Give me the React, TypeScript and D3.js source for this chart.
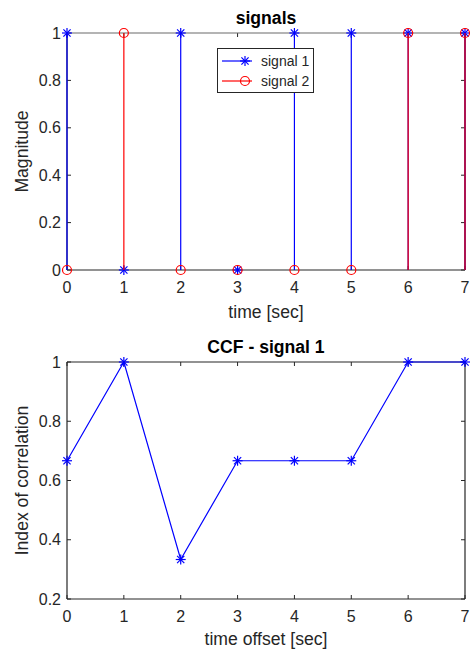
import React, { useRef, useEffect } from "react"
import * as d3 from "d3"

const times = [0, 1, 2, 3, 4, 5, 6, 7]
const signal1 = [1, 0, 1, 0, 1, 1, 1, 1]
const signal2 = [0, 1, 0, 0, 0, 0, 1, 1]
const ccf = [0.6667, 1, 0.3333, 0.6667, 0.6667, 0.6667, 1, 1]
const topTicksY = [0, 0.2, 0.4, 0.6, 0.8, 1]
const bottomTicksY = [0.2, 0.4, 0.6, 0.8, 1]

const W = 470
const H = 655
const FONT = "'Liberation Sans', Arial, sans-serif"
const AX = "#262626"

const App: React.FC = () => {
  const svgRef = useRef<SVGSVGElement>(null)

  useEffect(() => {
    if (!svgRef.current) return
    const svg = d3.select(svgRef.current)
    svg.selectAll("*").remove()

    const x = d3.scaleLinear().domain([0, 7]).range([67, 465])

    const star = (g: d3.Selection<SVGGElement, unknown, null, undefined>, cx: number, cy: number, color: string) => {
      const r = 5
      const s = g.append("g").attr("transform", `translate(${cx},${cy})`)
        .attr("stroke", color).attr("stroke-width", 1.2)
      s.append("line").attr("x1", -r).attr("x2", r).attr("y1", 0).attr("y2", 0)
      s.append("line").attr("x1", 0).attr("x2", 0).attr("y1", -r).attr("y2", r)
      const d = r * 0.72
      s.append("line").attr("x1", -d).attr("x2", d).attr("y1", -d).attr("y2", d)
      s.append("line").attr("x1", -d).attr("x2", d).attr("y1", d).attr("y2", -d)
    }

    const circ = (g: d3.Selection<SVGGElement, unknown, null, undefined>, cx: number, cy: number) => {
      g.append("circle").attr("cx", cx).attr("cy", cy).attr("r", 4.5)
        .attr("fill", "none").attr("stroke", "#ff0000").attr("stroke-width", 1.2)
    }

    const drawAxes = (
      y: d3.ScaleLinear<number, number>,
      yTicks: number[],
      title: string,
      xLabel: string,
      yLabel: string,
      topColor: string,
      xLabelGap: number
    ) => {
      const g = svg.append("g")
      const [y0, y1] = y.range()
      const x0 = x(0), x1 = x(7)
      // ticks point inward, matlab style
      times.forEach((t) => {
        g.append("line").attr("x1", x(t)).attr("x2", x(t)).attr("y1", y0).attr("y2", y0 - 4).attr("stroke", AX)
        g.append("line").attr("x1", x(t)).attr("x2", x(t)).attr("y1", y1).attr("y2", y1 + 4).attr("stroke", AX)
        g.append("text").attr("x", x(t)).attr("y", y0 + 23).attr("text-anchor", "middle")
          .attr("font-size", 16).attr("fill", AX).text(t)
      })
      yTicks.forEach((v) => {
        g.append("line").attr("x1", x0).attr("x2", x0 + 4).attr("y1", y(v)).attr("y2", y(v)).attr("stroke", AX)
        g.append("line").attr("x1", x1).attr("x2", x1 - 4).attr("y1", y(v)).attr("y2", y(v)).attr("stroke", AX)
        g.append("text").attr("x", x0 - 6).attr("y", y(v)).attr("dy", "0.35em").attr("text-anchor", "end")
          .attr("font-size", 16).attr("fill", AX).text(String(v))
      })
      g.append("line").attr("x1", x0).attr("x2", x1).attr("y1", y1).attr("y2", y1).attr("stroke", topColor).attr("stroke-width", 1.2)
      g.append("line").attr("x1", x0).attr("x2", x1).attr("y1", y0).attr("y2", y0).attr("stroke", AX).attr("stroke-width", 1.2)
      g.append("line").attr("x1", x0).attr("x2", x0).attr("y1", y0).attr("y2", y1).attr("stroke", AX).attr("stroke-width", 1.2)
      g.append("line").attr("x1", x1).attr("x2", x1).attr("y1", y0).attr("y2", y1).attr("stroke", AX).attr("stroke-width", 1.2)

      g.append("text").attr("x", (x0 + x1) / 2).attr("y", y1 - 9).attr("text-anchor", "middle")
        .attr("font-size", 17.6).attr("font-weight", "bold").attr("fill", "#000").text(title)
      g.append("text").attr("x", (x0 + x1) / 2).attr("y", y0 + xLabelGap).attr("text-anchor", "middle")
        .attr("font-size", 17.6).attr("fill", AX).text(xLabel)
      g.append("text").attr("transform", `translate(28,${(y0 + y1) / 2}) rotate(-90)`)
        .attr("text-anchor", "middle").attr("font-size", 17.6).attr("fill", AX).text(yLabel)
      return g
    }

    // top: stem plot
    const yTop = d3.scaleLinear().domain([0, 1]).range([270, 33])
    drawAxes(yTop, topTicksY, "signals", "time [sec]", "Magnitude", "#6b6b6b", 48)
    const stems = svg.append("g")
    times.forEach((t, i) => {
      if (signal1[i] !== 0)
        stems.append("line").attr("x1", x(t)).attr("x2", x(t)).attr("y1", yTop(0)).attr("y2", yTop(signal1[i]))
          .attr("stroke", "#0000ff").attr("stroke-width", 1.2)
    })
    times.forEach((t, i) => star(stems, x(t), yTop(signal1[i]), "#0000ff"))
    times.forEach((t, i) => {
      if (signal2[i] !== 0)
        stems.append("line").attr("x1", x(t)).attr("x2", x(t)).attr("y1", yTop(0)).attr("y2", yTop(signal2[i]))
          .attr("stroke", "#ff0000").attr("stroke-width", 1.2)
    })
    times.forEach((t, i) => circ(stems, x(t), yTop(signal2[i])))

    // legend
    const lg = svg.append("g")
    lg.append("rect").attr("x", 217.5).attr("y", 48.5).attr("width", 96).attr("height", 44)
      .attr("fill", "#fff").attr("stroke", AX).attr("stroke-width", 1)
    lg.append("line").attr("x1", 222).attr("x2", 252).attr("y1", 61).attr("y2", 61).attr("stroke", "#0000ff").attr("stroke-width", 1.2)
    star(lg, 245, 61, "#0000ff")
    lg.append("line").attr("x1", 222).attr("x2", 252).attr("y1", 81).attr("y2", 81).attr("stroke", "#ff0000").attr("stroke-width", 1.2)
    circ(lg, 245, 81)
    lg.append("text").attr("x", 261).attr("y", 61).attr("dy", "0.35em").attr("font-size", 14).attr("fill", AX).text("signal 1")
    lg.append("text").attr("x", 261).attr("y", 81).attr("dy", "0.35em").attr("font-size", 14).attr("fill", AX).text("signal 2")

    // bottom: CCF line plot
    const yBot = d3.scaleLinear().domain([0.2, 1]).range([599, 362])
    drawAxes(yBot, bottomTicksY, "CCF - signal 1", "time offset [sec]", "Index of correlation", AX, 46)
    const lineG = svg.append("g")
    const line = d3.line<number>().x((_, i) => x(times[i])).y((d) => yBot(d))
    lineG.append("path").datum(ccf).attr("d", line).attr("fill", "none").attr("stroke", "#0000ff").attr("stroke-width", 1.2)
    ccf.forEach((v, i) => star(lineG, x(times[i]), yBot(v), "#0000ff"))
  }, [])

  return (
    <svg ref={svgRef} width={W} height={H}
      style={{ position: "absolute", left: 0, top: 0, fontFamily: FONT, background: "#fff" }} />
  )
}

export default App
